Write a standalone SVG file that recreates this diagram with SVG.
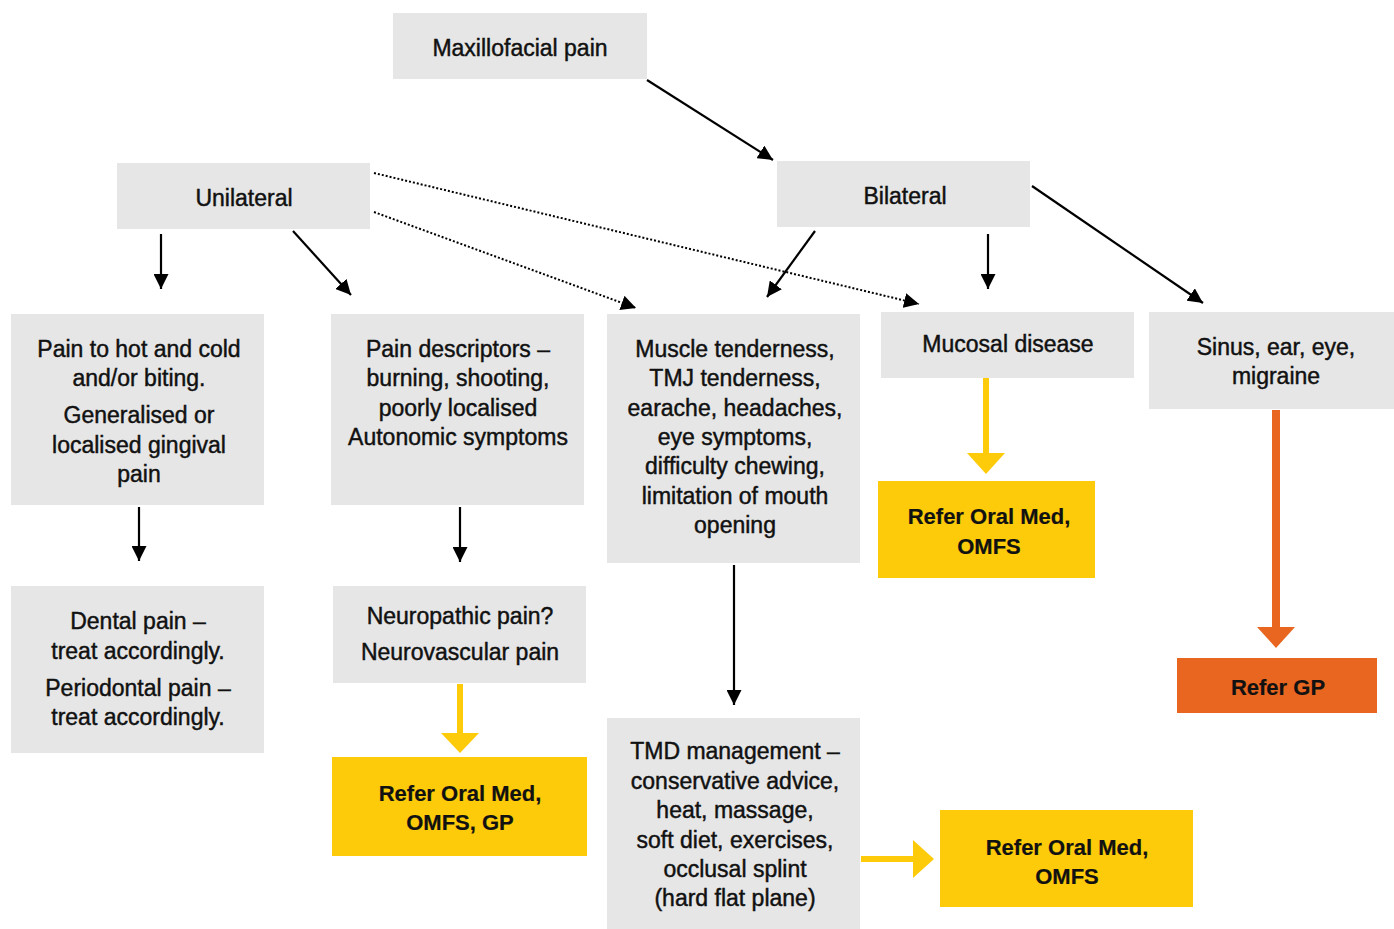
<svg xmlns="http://www.w3.org/2000/svg" width="1394" height="929" viewBox="0 0 1394 929">
<style>
.box{fill:#E6E6E6}
.yel{fill:#FDCB0A}
.org{fill:#E86620}
text{font-family:"Liberation Sans",Arial,sans-serif;font-size:23px;fill:#111;stroke:#111;stroke-width:0.45;text-anchor:middle}
.b{font-weight:bold;font-size:22px;stroke-width:0.2}
.ln{stroke:#000;stroke-width:2.2;fill:none}
.dot{stroke:#000;stroke-width:2;fill:none;stroke-dasharray:2 2}
</style>
<defs>
<marker id="ah" viewBox="0 0 10 10" refX="10" refY="5" markerWidth="15" markerHeight="15" markerUnits="userSpaceOnUse" orient="auto">
<path d="M0,0 L10,5 L0,10 z" fill="#000"/>
</marker>
</defs>
<rect width="1394" height="929" fill="#fff"/>
<g id="n-maxillofacial"><rect class="box" x="393" y="13" width="254" height="66"/><text x="520" y="56">Maxillofacial pain</text></g>
<g id="n-unilateral"><rect class="box" x="117" y="163" width="253" height="66"/><text x="244" y="206">Unilateral</text></g>
<g id="n-bilateral"><rect class="box" x="777" y="161" width="253" height="66"/><text x="905" y="204">Bilateral</text></g>
<g id="n-hotcold"><rect class="box" x="11" y="314" width="253" height="191"/>
<text x="139" y="357">Pain to hot and cold</text><text x="139" y="386">and/or biting.</text><text x="139" y="423">Generalised or</text><text x="139" y="453">localised gingival</text><text x="139" y="482">pain</text></g>
<g id="n-descriptors"><rect class="box" x="331" y="314" width="253" height="191"/>
<text x="458" y="357">Pain descriptors –</text><text x="458" y="386">burning, shooting,</text><text x="458" y="416">poorly localised</text><text x="458" y="445">Autonomic symptoms</text></g>
<g id="n-muscle"><rect class="box" x="607" y="314" width="253" height="249"/>
<text x="735" y="357">Muscle tenderness,</text><text x="735" y="386">TMJ tenderness,</text><text x="735" y="416">earache, headaches,</text><text x="735" y="445">eye symptoms,</text><text x="735" y="474">difficulty chewing,</text><text x="735" y="504">limitation of mouth</text><text x="735" y="533">opening</text></g>
<g id="n-mucosal"><rect class="box" x="881" y="312" width="253" height="66"/><text x="1008" y="352">Mucosal disease</text></g>
<g id="n-sinus"><rect class="box" x="1149" y="312" width="245" height="97"/><text x="1276" y="355">Sinus, ear, eye,</text><text x="1276" y="384">migraine</text></g>
<g id="n-refer-mucosal"><rect class="yel" x="878" y="481" width="217" height="97"/><text class="b" x="989" y="524">Refer Oral Med,</text><text class="b" x="989" y="554">OMFS</text></g>
<g id="n-dental"><rect class="box" x="11" y="586" width="253" height="167"/>
<text x="138" y="629">Dental pain –</text><text x="138" y="659">treat accordingly.</text><text x="138" y="696">Periodontal pain –</text><text x="138" y="725">treat accordingly.</text></g>
<g id="n-neuropathic"><rect class="box" x="333" y="586" width="253" height="97"/><text x="460" y="624">Neuropathic pain?</text><text x="460" y="660">Neurovascular pain</text></g>
<g id="n-refer-gp-omfs"><rect class="yel" x="332" y="757" width="255" height="99"/><text class="b" x="460" y="801">Refer Oral Med,</text><text class="b" x="460" y="830">OMFS, GP</text></g>
<g id="n-refer-gp"><rect class="org" x="1177" y="658" width="200" height="55"/><text class="b" x="1278" y="695">Refer GP</text></g>
<g id="n-tmd"><rect class="box" x="607" y="718" width="253" height="211"/>
<text x="735" y="759">TMD management –</text><text x="735" y="789">conservative advice,</text><text x="735" y="818">heat, massage,</text><text x="735" y="848">soft diet, exercises,</text><text x="735" y="877">occlusal splint</text><text x="735" y="906">(hard flat plane)</text></g>
<g id="n-refer-tmd"><rect class="yel" x="940" y="810" width="253" height="97"/><text class="b" x="1067" y="855">Refer Oral Med,</text><text class="b" x="1067" y="884">OMFS</text></g>
<g id="connectors">
<line class="ln" x1="647" y1="80" x2="773" y2="160" marker-end="url(#ah)"/>
<line class="ln" x1="161" y1="234" x2="161" y2="289" marker-end="url(#ah)"/>
<line class="ln" x1="293" y1="231" x2="351" y2="295" marker-end="url(#ah)"/>
<line class="dot" x1="374" y1="212" x2="636" y2="308" marker-end="url(#ah)"/>
<line class="dot" x1="374" y1="173" x2="919" y2="304" marker-end="url(#ah)"/>
<line class="ln" x1="815" y1="231" x2="767" y2="297" marker-end="url(#ah)"/>
<line class="ln" x1="988" y1="234" x2="988" y2="289" marker-end="url(#ah)"/>
<line class="ln" x1="1032" y1="186" x2="1203" y2="303" marker-end="url(#ah)"/>
<line class="ln" x1="139" y1="507" x2="139" y2="561" marker-end="url(#ah)"/>
<line class="ln" x1="460" y1="507" x2="460" y2="562" marker-end="url(#ah)"/>
<line class="ln" x1="734" y1="565" x2="734" y2="705" marker-end="url(#ah)"/>
<rect class="yel" x="983" y="378" width="6" height="76"/><polygon class="yel" points="967,453 1005,453 986,474"/>
<rect class="yel" x="457" y="684" width="6" height="50"/><polygon class="yel" points="441,733 479,733 460,753"/>
<rect class="org" x="1272" y="410" width="8" height="218"/><polygon class="org" points="1257,627 1295,627 1276,648"/>
<rect class="yel" x="861" y="856" width="53" height="6"/><polygon class="yel" points="913,840 913,878 934,859"/>
</g>
</svg>
